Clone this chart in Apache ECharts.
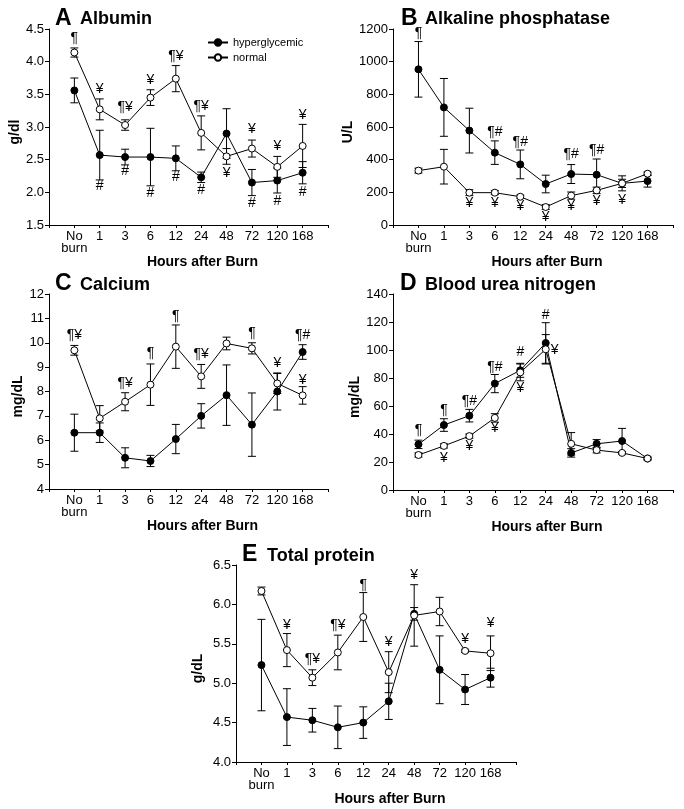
<!DOCTYPE html>
<html><head><meta charset="utf-8">
<script src="https://cdn.jsdelivr.net/npm/echarts@6/dist/echarts.min.js"></script>
<style>html,body{margin:0;padding:0;background:#fff}#c{width:684px;height:809px}</style>
</head><body><div id="c"></div><script>
// ---- categories ----
const hours = ['No\nburn', '1', '3', '6', '12', '24', '48', '72', '120', '168'];
const seriesNames = ['hyperglycemic', 'normal'];

// ---- A Albumin (g/dl) ----
const albHyper    = [3.56, 2.57, 2.54, 2.54, 2.52, 2.23, 2.90, 2.15, 2.18, 2.30];
const albHyperErr = [0.19, 0.38, 0.12, 0.44, 0.19, 0.08, 0.38, 0.20, 0.19, 0.17];
const albNorm     = [4.14, 3.27, 3.03, 3.45, 3.74, 2.91, 2.55, 2.67, 2.39, 2.71];
const albNormErr  = [0.07, 0.16, 0.08, 0.12, 0.20, 0.26, 0.12, 0.13, 0.16, 0.33];
const albNotes = [['¶',1,4.36],['¥',2,3.58],['¶¥',3,3.30],['¥',4,3.72],['¶¥',5,4.08],['¶¥',6,3.32],
  ['¥',7,2.30],['¥',8,2.96],['¥',9,2.70],['¥',10,3.18],
  ['#',2,2.09],['#',3,2.32],['#',4,1.98],['#',5,2.23],['#',6,2.03],['#',8,1.83],['#',9,1.86],['#',10,2.01]];

// ---- B Alkaline phosphatase (U/L) ----
const alpHyper    = [953, 720, 578, 443, 371, 251, 312, 308, 255, 269];
const alpHyperErr = [170, 177, 137, 72, 88, 54, 58, 96, 46, 37];
const alpNorm     = [333, 357, 198, 198, 173, 110, 180, 212, 255, 314];
const alpNormErr  = [15, 106, 18, 12, 10, 15, 22, 20, 25, 10];
const alpNotes = [['¶',1,1173],['¶#',4,571],['¶#',5,510],['¶#',7,435],['¶#',8,459],
  ['¥',3,133],['¥',4,133],['¥',5,118],['¥',6,51],['¥',7,118],['¥',8,147],['¥',9,153]];

// ---- C Calcium (mg/dL) ----
const caHyper    = [6.31, 6.31, 5.28, 5.15, 6.05, 7.00, 7.85, 6.64, 8.00, 9.62];
const caHyperErr = [0.76, 0.40, 0.41, 0.23, 0.60, 0.50, 1.24, 1.30, 0.76, 0.30];
const caNorm     = [9.69, 6.90, 7.58, 8.28, 9.84, 8.62, 9.97, 9.77, 8.33, 7.84];
const caNormErr  = [0.20, 0.52, 0.37, 0.85, 0.89, 0.49, 0.26, 0.23, 0.41, 0.36];
const caNotes = [['¶¥',1,10.32],['¶¥',3,8.33],['¶',4,9.56],['¶',5,11.11],['¶¥',6,9.52],
  ['¶',8,10.39],['¥',9,9.15],['¶#',10,10.32],['¥',10,8.47]];

// ---- D Blood urea nitrogen (mg/dL) ----
const bunHyper    = [32.6, 46.4, 53.1, 76.0, 85.5, 105.0, 26.5, 33.0, 35.0, 22.5];
const bunHyperErr = [3, 4.5, 4.5, 6.5, 5, 14.5, 3, 3, 9, 1];
const bunNorm     = [25.0, 31.5, 38.5, 51.5, 84.0, 100.5, 33.0, 28.5, 26.5, 22.5];
const bunNormErr  = [1.5, 1.5, 1.5, 3, 6, 10.5, 8, 2, 1, 1];
const bunNotes = [['¶',1,43],['¶',2,57],['¶#',3,63.6],['¶#',4,88],['#',5,98.3],['#',6,125],['¥',6.35,100],
  ['¥',2,23],['¥',3,31],['¥',4,44.5],['¥',5,72.8]];

// ---- E Total protein (g/dL) ----
const tpHyper    = [5.23, 4.57, 4.53, 4.44, 4.50, 4.77, 5.88, 5.17, 4.92, 5.07];
const tpHyperErr = [0.58, 0.36, 0.15, 0.27, 0.20, 0.23, 0.08, 0.43, 0.19, 0.12];
const tpNorm     = [6.17, 5.42, 5.07, 5.39, 5.84, 5.14, 5.86, 5.91, 5.41, 5.38];
const tpNormErr  = [0.05, 0.21, 0.10, 0.22, 0.31, 0.26, 0.39, 0.18, 0.02, 0.22];
const tpNotes = [['¥',2,5.74],['¶¥',3,5.31],['¶¥',4,5.74],['¶',5,6.25],['¥',6,5.52],['¥',7,6.37],['¥',9,5.56],['¥',10,5.76]];

const FONT = 'Liberation Sans, Arial, Helvetica, sans-serif';
const grids = [], xAxes = [], yAxes = [], series = [], graphics = [];

function errRender(params, api) {
  const x = api.value(0), lo = api.value(1), hi = api.value(2);
  const a = api.coord([x, lo]), b = api.coord([x, hi]);
  const hw = 4;
  const st = { stroke: '#000', lineWidth: 1 };
  return { type: 'group', children: [
    { type: 'line', shape: { x1: a[0], y1: a[1], x2: b[0], y2: b[1] }, style: st },
    { type: 'line', shape: { x1: a[0] - hw, y1: a[1], x2: a[0] + hw, y2: a[1] }, style: st },
    { type: 'line', shape: { x1: b[0] - hw, y1: b[1], x2: b[0] + hw, y2: b[1] }, style: st }
  ]};
}

function noteRenderFactory(notes) {
  return function (params, api) {
    const n = notes[params.dataIndex];
    const c = api.coord([api.value(0), api.value(1)]);
    return { type: 'text', x: c[0], y: c[1],
      style: { text: n[0], fill: '#000', font: '14px ' + FONT, align: 'center', verticalAlign: 'middle' } };
  };
}

function addPanel(p) {
  const gi = grids.length;
  grids.push({ left: p.rect[0], top: p.rect[1], width: p.rect[2], height: p.rect[3], containLabel: false });
  xAxes.push({
    gridIndex: gi, type: 'value', min: 0, max: 11, interval: 1,
    axisLine: { show: true, onZero: false, lineStyle: { color: '#000', width: 1 } },
    axisTick: { show: true, length: 3, lineStyle: { color: '#000' } },
    splitLine: { show: false },
    axisLabel: { color: '#000', fontFamily: FONT, fontSize: 13, lineHeight: 12, margin: 5,
      formatter: v => (v >= 1 && v <= 10) ? hours[v - 1] : '' },
    name: 'Hours after Burn', nameLocation: 'middle', nameGap: 22,
    nameTextStyle: { color: '#000', fontFamily: FONT, fontSize: 14, fontWeight: 'bold', padding: [0, 0, 0, 28] }
  });
  yAxes.push({
    gridIndex: gi, type: 'value', min: p.y[0], max: p.y[1], interval: p.y[2],
    axisLine: { show: true, lineStyle: { color: '#000', width: 1 } },
    axisTick: { show: true, length: 4, lineStyle: { color: '#000' } },
    splitLine: { show: false },
    axisLabel: { color: '#000', fontFamily: FONT, fontSize: 13, margin: 5,
      formatter: v => p.dec ? v.toFixed(p.dec) : String(v) },
    name: p.yName, nameLocation: 'middle', nameGap: p.nameGap,
    nameTextStyle: { color: '#000', fontFamily: FONT, fontSize: 14, fontWeight: 'bold', padding: [0, 10, 0, 0] }
  });
  const mk = arr => arr.map((v, i) => [i + 1, v]);
  const mkErr = (arr, e) => arr.map((v, i) => [i + 1, v - e[i], v + e[i]]);
  series.push({ type: 'custom', xAxisIndex: gi, yAxisIndex: gi, renderItem: errRender, z: 1, clip: false,
    encode: { x: 0, y: [1, 2] }, data: mkErr(p.hyper, p.hyperErr), silent: true });
  series.push({ type: 'custom', xAxisIndex: gi, yAxisIndex: gi, renderItem: errRender, z: 1, clip: false,
    encode: { x: 0, y: [1, 2] }, data: mkErr(p.norm, p.normErr), silent: true });
  series.push({ name: seriesNames[0], type: 'line', xAxisIndex: gi, yAxisIndex: gi, z: 2,
    data: mk(p.hyper), symbol: 'circle', symbolSize: 7, showAllSymbol: true,
    itemStyle: { color: '#000', borderColor: '#000', borderWidth: 1 },
    lineStyle: { color: '#000', width: 1 } });
  series.push({ name: seriesNames[1], type: 'line', xAxisIndex: gi, yAxisIndex: gi, z: 3,
    data: mk(p.norm), symbol: 'circle', symbolSize: 7, showAllSymbol: true,
    itemStyle: { color: '#fff', borderColor: '#000', borderWidth: 1 },
    lineStyle: { color: '#000', width: 1 } });
  series.push({ type: 'custom', xAxisIndex: gi, yAxisIndex: gi, z: 4, silent: true, clip: false,
    renderItem: noteRenderFactory(p.notes), encode: { x: 0, y: 1 },
    data: p.notes.map(n => [n[1], n[2]]) });
  graphics.push({ type: 'text', x: p.title[0], y: p.title[2],
    style: { text: p.letter, font: 'bold 23px ' + FONT, fill: '#000', verticalAlign: 'middle', textVerticalAlign: 'middle' } });
  graphics.push({ type: 'text', x: p.title[1], y: p.title[2] + 1,
    style: { text: p.name, font: 'bold 18px ' + FONT, fill: '#000', verticalAlign: 'middle', textVerticalAlign: 'middle' } });
}

addPanel({ rect: [49, 29, 279, 196], y: [1.5, 4.5, 0.5], dec: 1, yName: 'g/dl', nameGap: 27,
  hyper: albHyper, hyperErr: albHyperErr, norm: albNorm, normErr: albNormErr, notes: albNotes,
  letter: 'A', name: 'Albumin', title: [55, 80, 18.5] });
addPanel({ rect: [393, 29, 280, 196], y: [0, 1200, 200], yName: 'U/L', nameGap: 28,
  hyper: alpHyper, hyperErr: alpHyperErr, norm: alpNorm, normErr: alpNormErr, notes: alpNotes,
  letter: 'B', name: 'Alkaline phosphatase', title: [401, 425, 18.5] });
addPanel({ rect: [49, 294, 279, 195], y: [4, 12, 1], yName: 'mg/dL', nameGap: 22,
  hyper: caHyper, hyperErr: caHyperErr, norm: caNorm, normErr: caNormErr, notes: caNotes,
  letter: 'C', name: 'Calcium', title: [55, 80, 284] });
addPanel({ rect: [393, 294, 280, 196], y: [0, 140, 20], yName: 'mg/dL', nameGap: 24,
  hyper: bunHyper, hyperErr: bunHyperErr, norm: bunNorm, normErr: bunNormErr, notes: bunNotes,
  letter: 'D', name: 'Blood urea nitrogen', title: [400, 425, 284] });
addPanel({ rect: [236, 565, 280, 197], y: [4.0, 6.5, 0.5], dec: 1, yName: 'g/dL', nameGap: 31,
  hyper: tpHyper, hyperErr: tpHyperErr, norm: tpNorm, normErr: tpNormErr, notes: tpNotes,
  letter: 'E', name: 'Total protein', title: [242, 267, 555] });

const chart = echarts.init(document.getElementById('c'), null, { renderer: 'canvas' });
chart.setOption({
  animation: false,
  backgroundColor: '#fff',
  textStyle: { fontFamily: FONT },
  legend: {
    data: seriesNames, left: 207, top: 37, orient: 'vertical', padding: 0,
    itemWidth: 20, itemHeight: 8, itemGap: 4,
    textStyle: { color: '#000', fontFamily: FONT, fontSize: 11 }
  },
  grid: grids, xAxis: xAxes, yAxis: yAxes, series: series, graphic: graphics
});
</script></body></html>
